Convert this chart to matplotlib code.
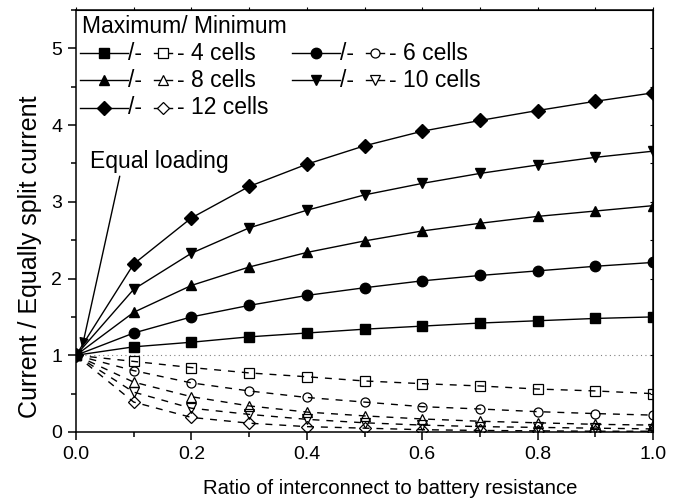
import numpy as np
import matplotlib.pyplot as plt

plt.rcParams['font.family'] = ['Liberation Sans', 'DejaVu Sans']

ratio = [0.0, 0.1, 0.2, 0.3, 0.4, 0.5, 0.6, 0.7, 0.8, 0.9, 1.0]
cells = [4, 6, 8, 10, 12]
markers = ['s', 'o', '^', 'v', 'D']

# maximum cell current / equally split current
max_4 = [1.0, 1.11, 1.17, 1.24, 1.29, 1.34, 1.38, 1.42, 1.45, 1.48, 1.50]
max_6 = [1.0, 1.29, 1.50, 1.65, 1.78, 1.88, 1.97, 2.04, 2.10, 2.16, 2.21]
max_8 = [1.0, 1.56, 1.91, 2.15, 2.34, 2.49, 2.62, 2.72, 2.81, 2.88, 2.95]
max_10 = [1.0, 1.86, 2.33, 2.66, 2.89, 3.09, 3.24, 3.37, 3.48, 3.58, 3.66]
max_12 = [1.0, 2.19, 2.79, 3.20, 3.49, 3.73, 3.92, 4.06, 4.19, 4.31, 4.42]

# minimum cell current / equally split current
min_4 = [1.0, 0.92, 0.84, 0.77, 0.72, 0.665, 0.63, 0.60, 0.56, 0.535, 0.50]
min_6 = [1.0, 0.80, 0.64, 0.535, 0.45, 0.39, 0.33, 0.30, 0.265, 0.24, 0.22]
min_8 = [1.0, 0.65, 0.46, 0.34, 0.26, 0.21, 0.17, 0.14, 0.12, 0.10, 0.09]
min_10 = [1.0, 0.52, 0.31, 0.23, 0.165, 0.12, 0.09, 0.07, 0.06, 0.05, 0.04]
min_12 = [1.0, 0.39, 0.19, 0.115, 0.07, 0.05, 0.03, 0.02, 0.015, 0.01, 0.01]

max_all = [max_4, max_6, max_8, max_10, max_12]
min_all = [min_4, min_6, min_8, min_10, min_12]

font_xlabel = 14.6
font_ylabel = 18
font_tick = 14
font_leg = 16.5

fig = plt.figure(figsize=(6.76, 4.99), dpi=100)
ax = fig.add_axes([76/676, 1-432/499, 577/676, 422/499])

ax.axhline(1, color='grey', ls=(0, (1, 3)), lw=0.8, zorder=1)

for i in range(5):
    ax.plot(ratio, max_all[i], color='k', lw=1, marker=markers[i], ms=7.5,
            mfc='k', mec='k', zorder=3)
    ax.plot(ratio, min_all[i], color='k', lw=1, ls=(0, (5, 5)),
            marker=markers[i], ms=6.5, mfc='none', mec='k', mew=0.9, zorder=3)

ax.set_xlim(0, 1.0)
ax.set_ylim(0, 5.5)
ax.set_xticks(np.arange(0, 1.01, 0.2))
ax.set_xticks(np.arange(0, 1.01, 0.1), minor=True)
ax.set_yticks(np.arange(0, 5.1, 1))
ax.set_yticks(np.arange(0, 5.6, 0.5), minor=True)
ax.set_xticklabels(['0.0', '0.2', '0.4', '0.6', '0.8', '1.0'])
ax.tick_params(labelsize=font_tick, direction='out', width=1.1, length=6,
               pad=4, top=False, right=False)
ax.tick_params(which='minor', direction='out', width=1.1, length=3.5,
               top=False, right=False)
for s in ax.spines.values():
    s.set_linewidth(1.1)

# small ticks on top and right edges
sec_x = ax.secondary_xaxis('top')
sec_x.set_xticks(np.arange(0, 1.01, 0.1))
sec_x.tick_params(direction='out', length=2, width=0.8, labeltop=False)
sec_y = ax.secondary_yaxis('right')
sec_y.set_yticks(np.arange(0, 5.6, 0.5))
sec_y.tick_params(direction='in', length=2, width=0.8, labelright=False)

ax.set_xlabel('Ratio of interconnect to battery resistance', fontsize=font_xlabel)
ax.set_ylabel('Current / Equally split current', fontsize=font_ylabel)
ax.xaxis.set_label_coords(0.544, -0.111)
ax.yaxis.set_label_coords(-0.059, 0.415)

ax.annotate('Equal loading', xy=(0.0104, 1.10), xytext=(0.024, 3.52),
            fontsize=font_leg, ha='left', va='center',
            arrowprops=dict(arrowstyle='-|>', color='k', lw=1,
                            shrinkA=0, shrinkB=0, mutation_scale=14,
                            relpos=(0.22, 0.0)))

# legend built by hand: filled marker /- open marker - N cells
ax.text(0.0104, 0.962, 'Maximum/ Minimum', transform=ax.transAxes,
        fontsize=font_leg, ha='left', va='center')
rows = [0.898, 0.834, 0.768]
cols = [0.0069, 0.3744]
for i in range(5):
    x0 = cols[i % 2]
    y0 = rows[i // 2]
    ax.plot([x0, x0+0.083], [y0, y0], transform=ax.transAxes, color='k', lw=1,
            clip_on=False)
    ax.plot([x0+0.0415], [y0], transform=ax.transAxes, marker=markers[i], ms=7.5,
            color='k', clip_on=False)
    ax.text(x0+0.083, y0, '/-', transform=ax.transAxes, fontsize=font_leg,
            ha='left', va='center')
    ax.plot([x0+0.128, x0+0.160], [y0, y0], transform=ax.transAxes, color='k',
            lw=1, clip_on=False)
    ax.plot([x0+0.144], [y0], transform=ax.transAxes, marker=markers[i], ms=6.5,
            mfc='white', mec='k', mew=0.9, clip_on=False)
    ax.text(x0+0.168, y0, '- %d cells' % cells[i], transform=ax.transAxes,
            fontsize=font_leg, ha='left', va='center')

plt.savefig('out.png', dpi=100)
